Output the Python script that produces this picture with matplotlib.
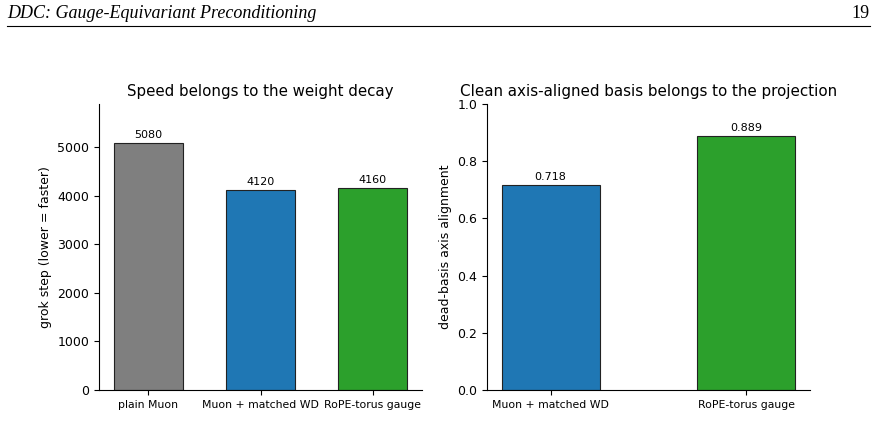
import matplotlib
matplotlib.use("Agg")
import matplotlib.pyplot as plt

header_title = "DDC: Gauge-Equivariant Preconditioning"
page_number = "19"

left_title = "Speed belongs to the weight decay"
left_categories = ["plain Muon", "Muon + matched WD", "RoPE-torus gauge"]
left_values = [5080, 4120, 4160]
left_colors = ["#7f7f7f", "#1f77b4", "#2ca02c"]
left_ylabel = "grok step (lower = faster)"

right_title = "Clean axis-aligned basis belongs to the projection"
right_categories = ["Muon + matched WD", "RoPE-torus gauge"]
right_values = [0.718, 0.889]
right_colors = ["#1f77b4", "#2ca02c"]
right_ylabel = "dead-basis axis alignment"

W, H = 877, 443
fig = plt.figure(figsize=(W / 100, H / 100), dpi=100)

# header
fig.text(7 / W, 1 - 14 / H, header_title, family="Liberation Serif", style="italic",
         fontsize=13, va="center", ha="left")
fig.text(870 / W, 1 - 14 / H, page_number, family="Liberation Serif",
         fontsize=13, va="center", ha="right")
fig.add_artist(plt.Line2D([7 / W, 870 / W], [1 - 26 / H, 1 - 26 / H], color="black", lw=0.8))

bottom = 1 - 390 / H
height = (390 - 104) / H
ax1 = fig.add_axes([99 / W, bottom, (422 - 99) / W, height])
ax2 = fig.add_axes([487 / W, bottom, (810 - 487) / W, height])

for ax in (ax1, ax2):
    ax.spines["top"].set_visible(False)
    ax.spines["right"].set_visible(False)
    ax.tick_params(axis="y", labelsize=9)
    ax.tick_params(axis="x", labelsize=7.8)

b1 = ax1.bar(range(len(left_values)), left_values, width=0.62, color=left_colors,
             edgecolor="#222222", linewidth=0.8)
ax1.set_xticks(range(len(left_categories)))
ax1.set_xticklabels(left_categories)
ax1.bar_label(b1, labels=[f"{v}" for v in left_values], padding=2, fontsize=8)
ax1.set_ylim(0, max(left_values) * 1.158)
ax1.set_ylabel(left_ylabel, fontsize=9)
ax1.set_title(left_title, fontsize=10.8)

b2 = ax2.bar(range(len(right_values)), right_values, width=0.5, color=right_colors,
             edgecolor="#222222", linewidth=0.8)
ax2.set_xticks(range(len(right_categories)))
ax2.set_xticklabels(right_categories)
ax2.bar_label(b2, labels=[f"{v:.3f}" for v in right_values], padding=2, fontsize=8)
ax2.set_ylim(0, 1.0)
ax2.set_ylabel(right_ylabel, fontsize=9)
ax2.set_title(right_title, fontsize=10.9)

fig.savefig("out.png", dpi=100)
